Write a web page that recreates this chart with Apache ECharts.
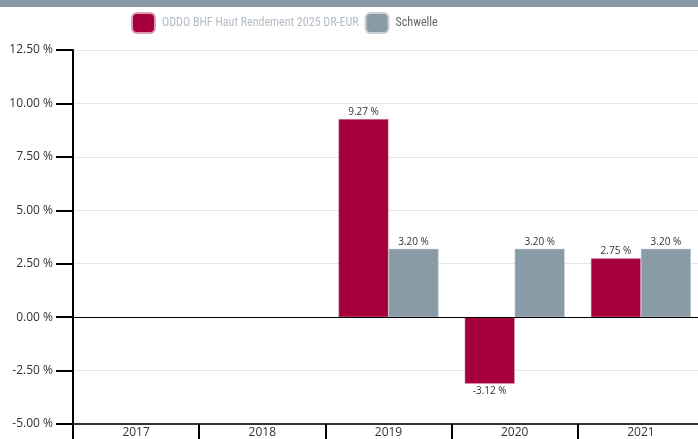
<!DOCTYPE html>
<html lang="de">
<head>
    <meta charset="UTF-8">
    <title>ODDO BHF Haut Rendement 2025 DR-EUR</title>
    <style>
        html, body { margin: 0; padding: 0; background: #fff; }
        #chart { width: 698px; height: 439px; }
    </style>
</head>
<body>
<div id="chart"></div>
<script src="https://cdn.jsdelivr.net/npm/echarts@6/dist/echarts.min.js"></script>
<script type="text/javascript">
    // Daten
    var years = ['2017', '2018', '2019', '2020', '2021'];
    var fundValues = [null, null, 9.27, -3.12, 2.75];
    var thresholdValues = [null, null, 3.20, 3.20, 3.20];
    var seriesNames = ['ODDO BHF Haut Rendement 2025 DR-EUR', 'Schwelle'];

    var fontFamily = '"Open Sans", "Noto Sans", sans-serif';
    var legendFont = '"Roboto Condensed", ' + fontFamily;

    function fmt(v) {
        return v.toFixed(2) + ' %';
    }

    // negative Werte bekommen das Label unter dem Balken
    function toBarData(values) {
        return values.map(function (v) {
            if (v === null) return null;
            return {
                value: v,
                label: { position: v < 0 ? 'bottom' : 'top' }
            };
        });
    }

    var myChart = echarts.init(document.getElementById('chart'));
    myChart.setOption({
        animation: false,
        backgroundColor: '#fff',
        graphic: [{
            type: 'rect',
            left: 0,
            top: 0,
            shape: { width: 698, height: 7 },
            style: { fill: '#8a9ba8' }
        }],
        legend: {
            top: 7,
            left: 126,
            itemWidth: 23,
            itemHeight: 20,
            itemGap: 6,
            icon: 'roundRect',
            textStyle: { fontFamily: legendFont, fontSize: 12, padding: [0, 0, 0, 2] },
            data: [
                { name: seriesNames[0], textStyle: { color: '#b4bcc4' } },
                { name: seriesNames[1], textStyle: { color: '#666' } }
            ]
        },
        grid: {
            left: 73,
            right: -6,
            top: 50,
            bottom: 15,
            containLabel: false,
            outerBoundsMode: 'none'
        },
        xAxis: {
            type: 'category',
            data: years,
            axisLine: { onZero: false, lineStyle: { color: '#333', width: 2 } },
            axisTick: { show: true, length: 20, lineStyle: { color: '#000', width: 2 } },
            axisLabel: { color: '#333', fontSize: 12, fontFamily: fontFamily, margin: 3 },
            splitLine: { show: false }
        },
        yAxis: {
            type: 'value',
            min: -5,
            max: 12.5,
            interval: 2.5,
            axisLine: { show: true, lineStyle: { color: '#000', width: 2 } },
            axisTick: { show: true, length: 17, lineStyle: { color: '#000', width: 2 } },
            axisLabel: {
                color: '#333',
                fontSize: 12,
                fontFamily: fontFamily,
                margin: 20,
                formatter: function (v) { return fmt(v); }
            },
            splitLine: { lineStyle: { color: '#e6e6e6', width: 1 } }
        },
        series: [
            {
                name: seriesNames[0],
                type: 'bar',
                barWidth: 50,
                barGap: '0%',
                data: toBarData(fundValues),
                itemStyle: { color: '#a5003c', borderColor: '#d9a0b5', borderWidth: 0.5 },
                label: {
                    show: true,
                    color: '#333',
                    fontSize: 10,
                    fontFamily: fontFamily,
                    distance: 2,
                    formatter: function (p) { return fmt(p.value); }
                },
                markLine: {
                    silent: true,
                    symbol: 'none',
                    label: { show: false },
                    lineStyle: { color: '#000', width: 1, type: 'solid' },
                    data: [{ yAxis: 0 }]
                }
            },
            {
                name: seriesNames[1],
                type: 'bar',
                barWidth: 50,
                barGap: '0%',
                data: toBarData(thresholdValues),
                itemStyle: { color: '#8a9ba8', borderColor: '#c8d1d8', borderWidth: 0.5 },
                label: {
                    show: true,
                    color: '#333',
                    fontSize: 10,
                    fontFamily: fontFamily,
                    distance: 2,
                    formatter: function (p) { return fmt(p.value); }
                }
            }
        ]
    });
</script>
</body>
</html>
